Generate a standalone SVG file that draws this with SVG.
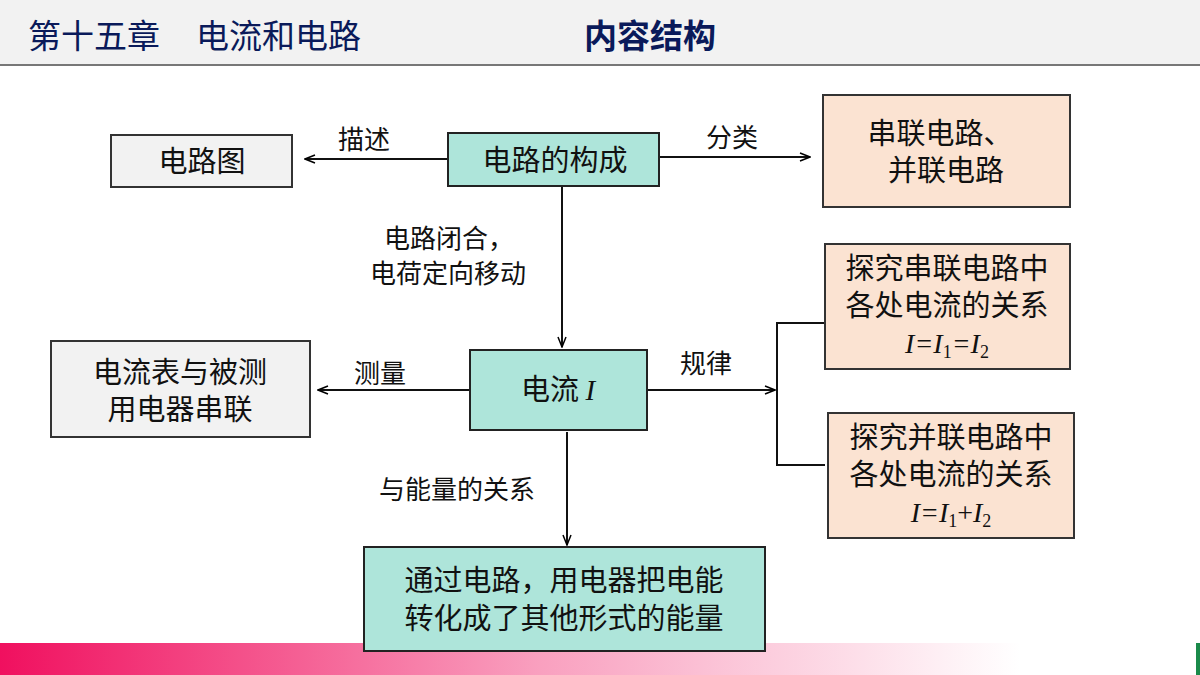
<svg xmlns="http://www.w3.org/2000/svg" width="1200" height="675" viewBox="0 0 1200 675">
<defs>
<linearGradient id="bar" x1="0" x2="1" y1="0" y2="0"><stop offset="0" stop-color="#f0105f"/><stop offset="0.45" stop-color="#f9a0bf"/><stop offset="0.85" stop-color="#ffffff"/></linearGradient>
<marker id="ar" markerWidth="12" markerHeight="10" refX="11" refY="5" orient="auto" markerUnits="userSpaceOnUse"><path d="M1,1 L11,5 L1,9" fill="none" stroke="#000" stroke-width="1.5"/></marker>
<style>
text{font-family:"Noto Sans CJK SC","Liberation Sans",sans-serif;fill:#111;}
.b{font-size:29px;text-anchor:middle;}
.l{font-size:26px;}
.it{font-family:"Liberation Serif",serif;font-style:italic;}
.sub{font-style:normal;font-size:18px;}
.grey{fill:#f2f2f2;stroke:#333;stroke-width:2;}
.teal{fill:#aee5da;stroke:#222;stroke-width:2;}
.peach{fill:#fbe3d2;stroke:#333;stroke-width:2;}
.c{fill:none;stroke:#111;stroke-width:2;}
</style>
</defs>
<rect width="1200" height="675" fill="#fff"/>
<rect width="1200" height="64" fill="#f2f2f2"/>
<line x1="0" y1="65" x2="1200" y2="65" stroke="#777" stroke-width="2"/>
<text x="28" y="48" style="font-size:33px;fill:#0a1a5a">第十五章</text>
<text x="196" y="48" style="font-size:33px;fill:#0a1a5a">电流和电路</text>
<text x="650" y="48" style="font-size:33px;fill:#0a1a5a;font-weight:bold;text-anchor:middle">内容结构</text>
<rect x="0" y="643" width="1200" height="32" fill="url(#bar)"/>
<rect x="1196" y="643" width="4" height="32" fill="#1a8a4a"/>
<g id="connectors">
<line class="c" x1="448" y1="159" x2="305" y2="159" marker-end="url(#ar)"/>
<line class="c" x1="660" y1="157" x2="810" y2="157" marker-end="url(#ar)"/>
<line class="c" x1="562" y1="187" x2="562" y2="347" marker-end="url(#ar)"/>
<line class="c" x1="470" y1="390" x2="318" y2="390" marker-end="url(#ar)"/>
<line class="c" x1="648" y1="390" x2="775" y2="390" marker-end="url(#ar)"/>
<path class="c" d="M825,323 H777 V465 H825"/>
<line class="c" x1="567" y1="432" x2="567" y2="545" marker-end="url(#ar)"/>
<text class="l" x="338" y="149">描述</text>
<text class="l" x="706" y="147">分类</text>
<text class="l" x="384" y="248">电路闭合，</text>
<text class="l" x="370" y="283">电荷定向移动</text>
<text class="l" x="354" y="383">测量</text>
<text class="l" x="680" y="373">规律</text>
<text class="l" x="379" y="499">与能量的关系</text>
</g>
<g id="n1"><rect class="grey" x="111" y="135" width="181" height="52"/><text class="b" x="202" y="172">电路图</text></g>
<g id="n2"><rect class="teal" x="448" y="133" width="211" height="53"/><text class="b" x="555" y="171">电路的构成</text></g>
<g id="n3"><rect class="peach" x="823" y="95" width="247" height="112"/><text class="b" x="940" y="144">串联电路、</text><text class="b" x="946" y="181">并联电路</text></g>
<g id="n4"><rect class="grey" x="51" y="341" width="259" height="96"/><text class="b" x="180" y="383">电流表与被测</text><text class="b" x="180" y="420">用电器串联</text></g>
<g id="n5"><rect class="teal" x="470" y="350" width="177" height="80"/><text class="b" x="558" y="400">电流 <tspan class="it">I</tspan></text></g>
<g id="n6"><rect class="peach" x="825" y="244" width="245" height="125"/><text class="b" x="947" y="279">探究串联电路中</text><text class="b" x="947" y="316">各处电流的关系</text><text class="b it" x="947" y="353" style="font-size:28px">I=I<tspan class="sub" dy="5">1</tspan><tspan dy="-5">=I</tspan><tspan class="sub" dy="5">2</tspan></text></g>
<g id="n7"><rect class="peach" x="828" y="413" width="246" height="125"/><text class="b" x="951" y="448">探究并联电路中</text><text class="b" x="951" y="485">各处电流的关系</text><text class="b it" x="951" y="522" style="font-size:28px">I=I<tspan class="sub" dy="5">1</tspan><tspan dy="-5" style="font-style:normal">+</tspan><tspan>I</tspan><tspan class="sub" dy="5">2</tspan></text></g>
<g id="n8"><rect class="teal" x="364" y="547" width="401" height="104"/><text class="b" x="564" y="591">通过电路，用电器把电能</text><text class="b" x="564" y="629">转化成了其他形式的能量</text></g>
</svg>
